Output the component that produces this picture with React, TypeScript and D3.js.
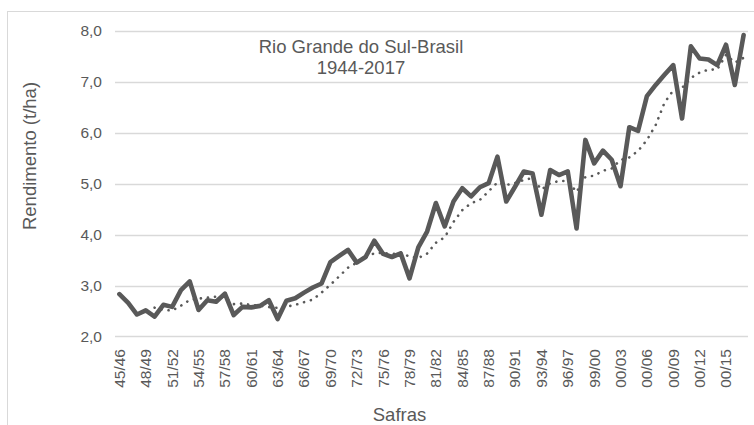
import React, { useRef, useEffect } from "react";
import * as d3 from "d3";

const safras = [
  "45/46", "46/47", "47/48", "48/49", "49/50", "50/51", "51/52", "52/53", "53/54", "54/55",
  "55/56", "56/57", "57/58", "58/59", "59/60", "60/61", "61/62", "62/63", "63/64", "64/65",
  "65/66", "66/67", "67/68", "68/69", "69/70", "70/71", "71/72", "72/73", "73/74", "74/75",
  "75/76", "76/77", "77/78", "78/79", "79/80", "80/81", "81/82", "82/83", "83/84", "84/85",
  "85/86", "86/87", "87/88", "88/89", "89/90", "90/91", "91/92", "92/93", "93/94", "94/95",
  "95/96", "96/97", "97/98", "98/99", "99/00", "00/01", "00/02", "00/03", "00/04", "00/05",
  "00/06", "00/07", "00/08", "00/09", "00/10", "00/11", "00/12", "00/13", "00/14", "00/15",
  "00/16", "00/17",
];

// rendimento (t/ha)
const rendimento = [
  2.83, 2.66, 2.43, 2.51, 2.39, 2.62, 2.58, 2.91, 3.08, 2.52,
  2.71, 2.68, 2.84, 2.42, 2.58, 2.57, 2.60, 2.71, 2.34, 2.70,
  2.75, 2.86, 2.96, 3.04, 3.46, 3.58, 3.70, 3.45, 3.56, 3.88,
  3.62, 3.56, 3.63, 3.14, 3.75, 4.06, 4.62, 4.16, 4.65, 4.91,
  4.75, 4.93, 5.01, 5.53, 4.65, 4.94, 5.24, 5.20, 4.39, 5.27,
  5.17, 5.24, 4.12, 5.86, 5.40, 5.65, 5.47, 4.95, 6.11, 6.04,
  6.72, 6.94, 7.14, 7.33, 6.28, 7.70, 7.46, 7.44, 7.33, 7.73,
  6.94, 7.92,
];

const yTicks = [2, 3, 4, 5, 6, 7, 8];
const mediaPeriodo = 5; // média móvel (linha pontilhada)

const App = () => {
  const chartRef = useRef<HTMLDivElement>(null);

  useEffect(() => {
    const width = 754;
    const height = 425;
    const marginLeft = 115;
    const marginRight = 6;
    const plotTop = 31;
    const plotBottom = 336.4;
    const grey = "#595959";
    const font = "'Liberation Sans', Arial, sans-serif";

    const data = safras.map((s, i) => ({ safra: s, valor: rendimento[i] }));

    // média móvel simples, como a linha de tendência do Excel
    const media = data.slice(mediaPeriodo - 1).map((d, j) => ({
      safra: d.safra,
      valor: d3.mean(rendimento.slice(j, j + mediaPeriodo)) as number,
    }));

    const x = d3.scalePoint()
      .domain(safras)
      .range([marginLeft, width - marginRight])
      .padding(0.5);

    const y = d3.scaleLinear()
      .domain([2, 8])
      .range([plotBottom, plotTop]);

    const line = d3.line<{ safra: string; valor: number }>()
      .x(d => x(d.safra) as number)
      .y(d => y(d.valor));

    const svg = d3.create("svg")
      .attr("width", width)
      .attr("height", height)
      .attr("viewBox", [0, 0, width, height])
      .style("position", "absolute")
      .style("left", 0)
      .style("top", 0)
      .style("font-family", font);

    svg.append("rect")
      .attr("width", width)
      .attr("height", height)
      .attr("fill", "#fff");

    // moldura
    svg.append("rect")
      .attr("x", 7.5)
      .attr("y", 11.5)
      .attr("width", width + 10)
      .attr("height", height + 10)
      .attr("fill", "none")
      .attr("stroke", "#d9d9d9");

    // grade + eixo Y
    const gy = svg.append("g");
    gy.selectAll("line")
      .data(yTicks)
      .join("line")
      .attr("x1", marginLeft)
      .attr("x2", width - marginRight)
      .attr("y1", d => Math.round(y(d)) + 0.5)
      .attr("y2", d => Math.round(y(d)) + 0.5)
      .attr("stroke", "#d9d9d9")
      .attr("stroke-width", 1.3);
    gy.selectAll("text")
      .data(yTicks)
      .join("text")
      .attr("x", 102)
      .attr("y", d => y(d))
      .attr("dy", "0.35em")
      .attr("text-anchor", "end")
      .attr("fill", grey)
      .style("font-size", "15.5px")
      .text(d => d3.format(".1f")(d).replace(".", ","));

    // rótulos X (a cada 3 safras)
    svg.append("g")
      .selectAll("text")
      .data(safras.filter((_, i) => i % 3 === 0))
      .join("text")
      .attr("transform", d => `translate(${x(d)},349) rotate(-90)`)
      .attr("dy", "0.35em")
      .attr("text-anchor", "end")
      .attr("fill", grey)
      .style("font-size", "15.5px")
      .text(d => d);

    // títulos dos eixos
    svg.append("text")
      .attr("transform", "translate(30,156) rotate(-90)")
      .attr("dy", "0.35em")
      .attr("text-anchor", "middle")
      .attr("fill", grey)
      .style("font-size", "18.5px")
      .text("Rendimento  (t/ha)");

    svg.append("text")
      .attr("x", (marginLeft + width - marginRight) / 2 - 32)
      .attr("y", 421)
      .attr("text-anchor", "middle")
      .attr("fill", grey)
      .style("font-size", "18.5px")
      .text("Safras");

    // título interno
    const titulo = svg.append("text")
      .attr("text-anchor", "middle")
      .attr("fill", grey)
      .style("font-size", "18.5px");
    titulo.append("tspan").attr("x", 361).attr("y", 53).text("Rio Grande do Sul-Brasil");
    titulo.append("tspan").attr("x", 361).attr("y", 74).text("1944-2017");

    // linha pontilhada (média móvel)
    svg.append("path")
      .datum(media)
      .attr("fill", "none")
      .attr("stroke", grey)
      .attr("stroke-width", 2.6)
      .attr("stroke-linecap", "round")
      .attr("stroke-dasharray", "0.1 7")
      .attr("d", line);

    // série principal
    svg.append("path")
      .datum(data)
      .attr("fill", "none")
      .attr("stroke", grey)
      .attr("stroke-width", 4.6)
      .attr("stroke-linejoin", "round")
      .attr("stroke-linecap", "round")
      .attr("d", line);

    chartRef.current!.innerHTML = "";
    chartRef.current!.appendChild(svg.node()!);
  }, []);

  return <div ref={chartRef} />;
};

export default App;
